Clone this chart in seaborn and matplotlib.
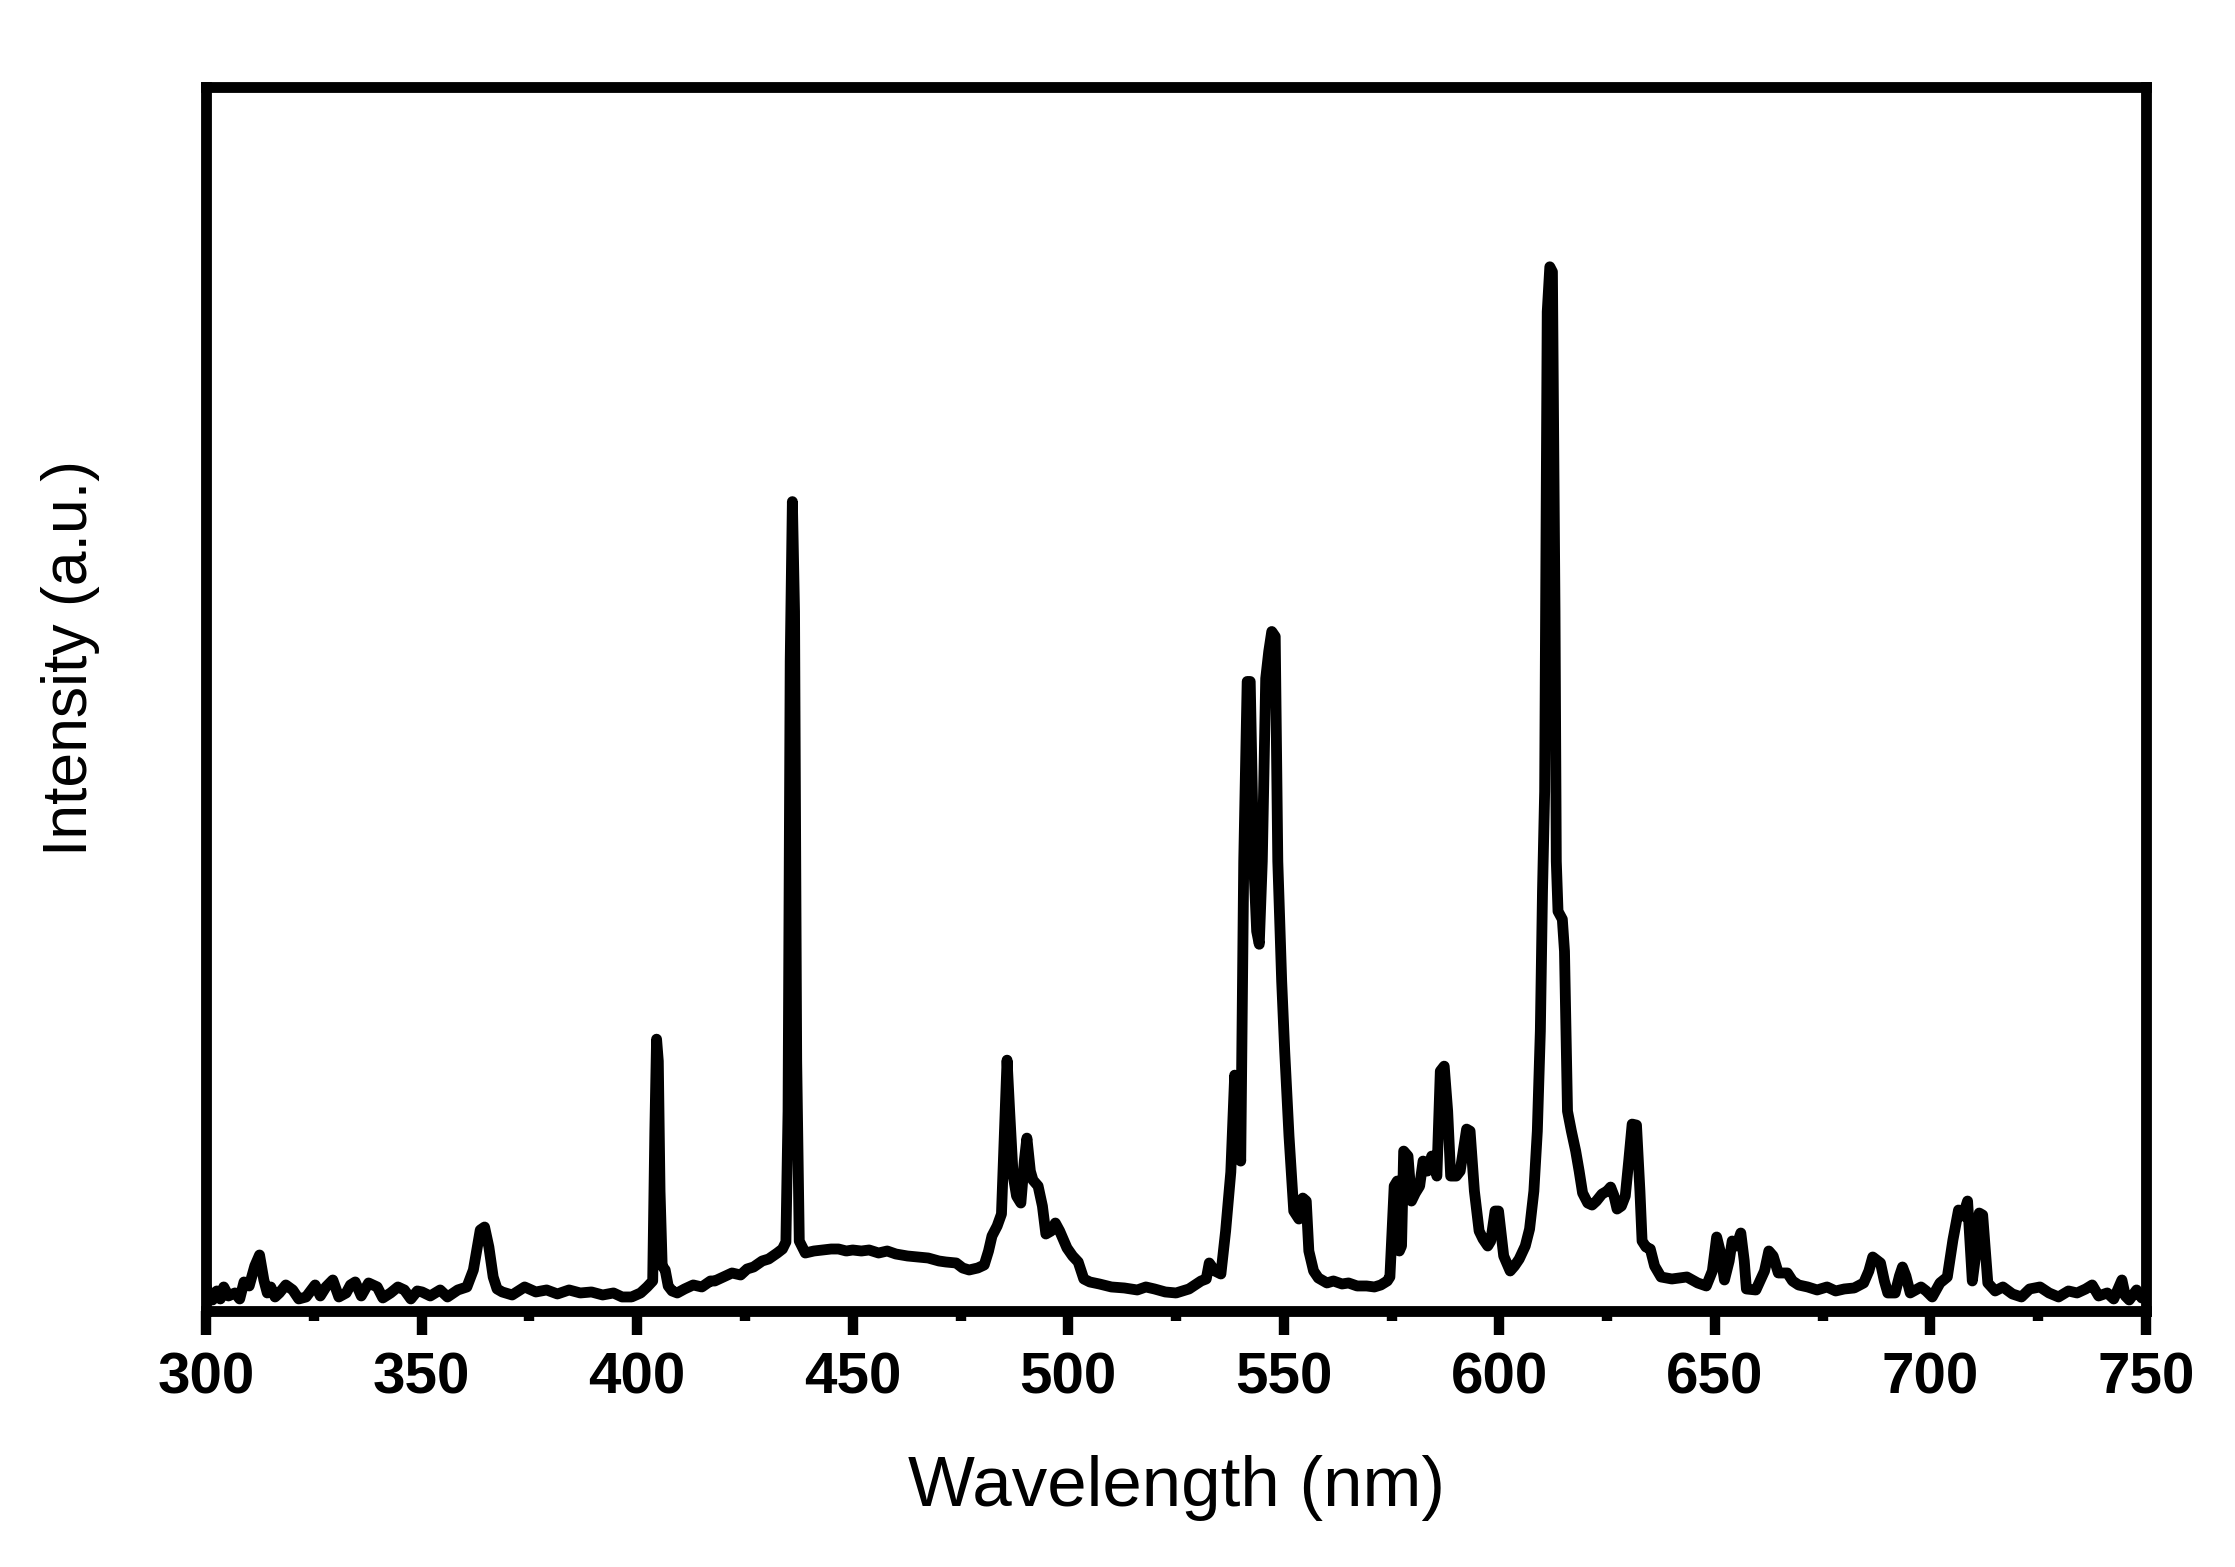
import matplotlib
matplotlib.use("Agg")
import matplotlib.pyplot as plt
import seaborn as sns
import pandas as pd
from matplotlib.ticker import MultipleLocator

# ---- data ----
wavelength = [
    300.0, 300.8, 301.5, 302.5, 303.3, 304.1, 305.2, 306.7, 307.8, 308.8, 310.0, 311.3, 312.4, 313.4, 314.2,
    315.0, 316.0, 317.0, 318.5, 320.1, 321.5, 323.2, 325.3, 326.5, 327.8, 329.4, 330.8, 332.5, 333.5, 334.6,
    336.0, 337.7, 339.7, 341.0, 342.8, 344.5, 346.0, 347.5, 349.0, 350.1, 352.0, 354.3, 356.0, 358.4, 360.5,
    362.0, 363.6, 364.6, 365.6, 366.6, 367.5, 368.7, 371.0, 373.9, 376.5, 379.0, 381.5, 384.2, 386.8, 389.4,
    392.0, 394.5, 396.5, 398.7, 400.8, 402.3, 403.6, 404.1, 404.5, 404.9, 405.3, 405.8, 406.5, 407.2, 408.1, 409.3,
    411.0, 413.0, 415.0, 417.0, 418.0, 420.0, 422.0, 424.0, 425.5, 427.0, 429.0, 430.5, 432.5, 433.7, 434.5,
    435.0, 435.5, 436.0, 436.5, 437.0, 437.6, 439.0, 441.0, 443.0, 445.0, 446.7, 448.5, 450.0, 452.0, 453.8, 456.0,
    458.0, 460.0, 462.7, 465.0, 467.5, 470.0, 471.6, 474.0, 475.5, 477.0, 479.0, 480.5, 481.5, 482.3, 483.5,
    484.5, 485.2, 485.8, 486.4, 487.2, 488.0, 489.0, 489.8, 490.4, 491.2, 491.8, 493.0, 494.0, 494.8, 496.0,
    497.0, 498.0, 499.7, 501.0, 502.3, 503.6, 505.0, 507.2, 510.0, 513.0, 516.0, 518.0, 520.0, 522.5, 525.0,
    528.0, 530.8, 532.0, 532.7, 534.0, 535.4, 536.5, 537.7, 538.6, 539.2, 540.0, 540.7, 541.5, 542.2, 543.0,
    543.7, 544.3, 545.0, 545.8, 546.5, 547.2, 548.0, 548.6, 549.5, 550.2, 551.2, 552.3, 553.5, 554.4, 555.2,
    555.8, 556.9, 558.0, 560.0, 561.5, 563.5, 565.0, 567.0, 569.2, 571.0, 572.5, 574.0, 574.6, 575.6, 576.3,
    576.8, 577.3, 577.8, 578.8, 579.6, 580.5, 581.5, 582.3, 583.3, 584.3, 585.5, 586.3, 587.2, 588.0, 588.7,
    590.0, 590.9, 592.4, 593.2, 594.2, 595.3, 596.2, 597.3, 598.0, 599.0, 599.8, 601.0, 602.5, 603.5, 604.6,
    606.0, 607.0, 608.0, 608.8, 609.5, 610.0, 610.5, 611.1, 611.7, 612.3, 612.9, 613.2, 613.6, 614.6, 615.1,
    615.8, 616.7, 617.7, 618.5, 619.3, 620.5, 621.5, 622.5, 623.8, 625.0, 625.8, 626.6, 627.3, 628.3, 629.2,
    630.0, 630.8, 631.8, 632.6, 633.1, 634.0, 635.0, 636.0, 637.5, 640.0, 643.5, 646.0, 648.0, 649.4, 650.4,
    651.2, 652.2, 653.3, 654.0, 655.0, 656.0, 656.8, 657.3, 659.5, 661.5, 662.5, 663.5, 664.7, 666.8, 668.0,
    669.4, 671.5, 673.7, 676.0, 678.0, 680.0, 682.3, 684.5, 685.7, 686.6, 688.4, 689.3, 690.1, 691.8, 692.8,
    693.5, 694.3, 695.3, 697.8, 699.0, 700.4, 702.2, 703.9, 705.2, 706.5, 707.5, 708.6, 709.7, 710.6, 711.3,
    712.1, 713.3, 715.0, 716.8, 719.0, 721.1, 723.0, 725.4, 727.5, 729.7, 732.0, 734.0, 736.0, 737.5, 739.0,
    741.0, 742.5, 744.4, 745.2, 746.1, 747.8, 749.0, 750.0,
]
intensity = [
    25, 14, 11, 20, 12, 24, 15, 18, 12, 29, 25, 45, 56, 31, 18,
    24, 14, 18, 26, 21, 12, 14, 26, 15, 24, 31, 14, 18, 26, 29,
    15, 28, 24, 13, 18, 24, 21, 12, 20, 19, 15, 21, 14, 21, 24,
    41, 81, 84, 64, 34, 22, 19, 16, 24, 19, 21, 17, 21, 18, 19,
    16, 18, 14, 14, 18, 24, 30, 180, 272, 250, 120, 45, 41, 25, 20, 18,
    22, 26, 24, 30, 30, 34, 38, 36, 42, 44, 50, 52, 58, 62, 69,
    200, 650, 810, 700, 250, 70, 58, 60, 61, 62, 62, 60, 61, 60, 61, 58,
    60, 57, 55, 54, 53, 50, 49, 48, 43, 41, 43, 46, 60, 75, 85,
    97, 180, 251, 200, 136, 115, 108, 150, 173, 140, 131, 125, 105, 77, 80,
    88, 80, 63, 55, 49, 32, 29, 27, 24, 23, 21, 24, 22, 19, 18,
    22, 30, 32, 48, 40, 37, 80, 139, 236, 200, 150, 450, 630, 630, 450,
    380, 367, 450, 633, 660, 680, 675, 450, 330, 260, 175, 100, 92, 113, 110,
    60, 40, 33, 28, 30, 27, 28, 25, 25, 24, 26, 30, 34, 125, 130,
    60, 65, 160, 155, 110, 118, 125, 150, 140, 155, 135, 240, 245, 200, 135,
    135, 140, 182, 180, 120, 80, 72, 65, 70, 100, 100, 55, 40, 45, 52,
    65, 82, 120, 180, 280, 420, 520, 1000, 1045, 1040, 700, 450, 400, 392, 360,
    200, 180, 160, 140, 118, 108, 106, 110, 117, 120, 124, 115, 102, 105, 115,
    150, 187, 186, 120, 70, 64, 62, 45, 34, 32, 34, 28, 25, 40, 74,
    60, 31, 50, 70, 65, 78, 50, 22, 21, 40, 60, 55, 38, 38, 30,
    26, 24, 21, 24, 20, 22, 23, 28, 40, 54, 48, 30, 18, 18, 35,
    44, 35, 18, 24, 20, 14, 28, 34, 71, 101, 95, 110, 30, 60, 98,
    96, 28, 20, 24, 17, 14, 22, 24, 18, 14, 20, 18, 22, 26, 15,
    18, 12, 31, 15, 11, 21, 13, 15,
]
major_ticks = [300, 350, 400, 450, 500, 550, 600, 650, 700, 750]
tick_labels = ["300", "350", "400", "450", "500", "550", "600", "650", "700", "750"]
x_label = "Wavelength (nm)"
y_label = "Intensity (a.u.)"

df = pd.DataFrame({"wavelength": wavelength, "intensity": intensity})

sns.set_theme(style="white")
plt.rcParams["font.family"] = ["Liberation Sans", "DejaVu Sans"]
plt.rcParams["text.color"] = "black"
plt.rcParams["axes.labelcolor"] = "black"
plt.rcParams["xtick.color"] = "black"
plt.rcParams["ytick.color"] = "black"

fig = plt.figure(figsize=(22.35, 15.67), dpi=100)
ax = fig.add_axes([0.0922, 0.1634, 0.9602 - 0.0922, 0.9445 - 0.1634])

sns.lineplot(data=df, x="wavelength", y="intensity", ax=ax, color="black",
             estimator=None, sort=False, linewidth=7.8)
for ln in ax.lines:
    ln.set_linewidth(7.8)
    ln.set_solid_joinstyle("round")
    ln.set_solid_capstyle("round")
    ln.set_color("black")

ax.set_xlim(300, 750)
ax.set_ylim(0, 1225)

for sp in ax.spines.values():
    sp.set_visible(True)
    sp.set_color("black")
    sp.set_linewidth(7.8)

ax.set_xticks(major_ticks)
ax.set_xticklabels(tick_labels, fontsize=42, fontweight="bold", color="black")
ax.xaxis.set_minor_locator(MultipleLocator(25))
ax.tick_params(axis="x", which="major", direction="out", length=17, width=7.5,
               pad=12, color="black", labelcolor="black", bottom=True, top=False)
ax.tick_params(axis="x", which="minor", direction="out", length=7, width=7.5,
               color="black", bottom=True, top=False)
ax.tick_params(axis="y", which="both", left=False, right=False, labelleft=False)
ax.set_yticks([])

ax.set_xlabel(x_label, fontsize=51, fontweight="normal", color="black")
ax.set_ylabel(y_label, fontsize=45, fontweight="normal", color="black")
ax.xaxis.set_label_coords(0.5, -0.118)
ax.yaxis.set_label_coords(-0.0545, 0.5335)
ax.grid(False)

fig.savefig("out.png", dpi=100, facecolor="white")
